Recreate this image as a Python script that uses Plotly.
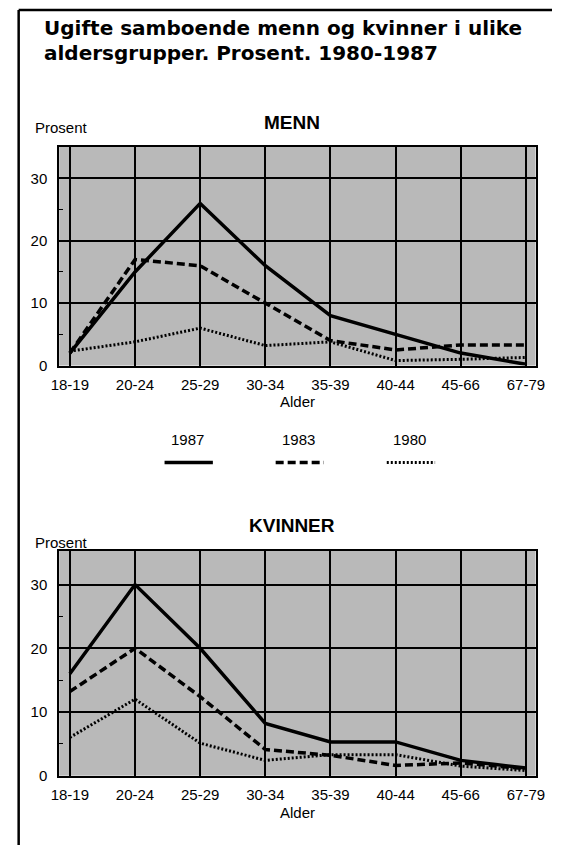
import plotly.graph_objects as go

W, H = 562, 853

categories = ["18-19", "20-24", "25-29", "30-34", "35-39", "40-44", "45-66", "67-79"]
years = ["1987", "1983", "1980"]

menn_1987 = [2, 15, 26, 16, 8, 5, 2, 0.2]
menn_1983 = [2, 17, 16, 10, 4, 2.5, 3.3, 3.3]
menn_1980 = [2.3, 3.8, 6, 3.2, 3.8, 0.8, 1.0, 1.3]

kvinner_1987 = [16, 30, 20, 8.2, 5.3, 5.3, 2.4, 1.2]
kvinner_1983 = [13.2, 20, 12.4, 4.1, 3.2, 1.6, 2.0, 1.1]
kvinner_1980 = [6, 12, 5.1, 2.4, 3.3, 3.3, 1.5, 0.8]

y_ticks = [0, 10, 20, 30]
y_minor = [5, 15, 25]

title_lines = ["Ugifte samboende menn og kvinner i ulike",
               "aldersgrupper. Prosent. 1980-1987"]

FONT = "Liberation Sans Narrow, Liberation Sans, Arial, sans-serif"
TFONT = "DejaVu Sans, Liberation Sans, Arial, sans-serif"
BG = "#b9b9b9"

styles = {"1987": dict(dash="solid", width=3.5),
          "1983": dict(dash="8px,4px", width=3.5),
          "1980": dict(dash="2px,2px", width=3)}


def px(x):
    return x / W


def py(y):
    return 1 - y / H


fig = go.Figure()

panels = [
    ("x", "y", [menn_1987, menn_1983, menn_1980]),
    ("x2", "y2", [kvinner_1987, kvinner_1983, kvinner_1980]),
]
for xa, ya, series in panels:
    for yr, vals in zip(years, series):
        st = styles[yr]
        fig.add_trace(go.Scatter(
            x=categories, y=vals, mode="lines", name=yr,
            line=dict(color="black", width=st["width"], dash=st["dash"]),
            xaxis=xa, yaxis=ya, showlegend=False, hoverinfo="skip"))

xl, xr = 52, 545
xaxis_common = dict(
    type="category", range=[-0.163, 7.148], showgrid=True, gridcolor="black",
    gridwidth=2, showline=True, mirror=True, linecolor="black", linewidth=2,
    ticks="", ticklabelstandoff=4, tickfont=dict(family=FONT, size=15, color="black"),
    zeroline=False, fixedrange=True)
yaxis_common = dict(
    tickmode="array", tickvals=y_ticks, showgrid=True, gridcolor="black",
    gridwidth=2, showline=True, mirror=True, linecolor="black", linewidth=2,
    ticks="", ticklabelstandoff=7, tickfont=dict(family=FONT, size=15, color="black"),
    zeroline=False, fixedrange=True,
    minor=dict(tickvals=y_minor, ticks="inside", ticklen=4, tickcolor="black",
               tickwidth=1, showgrid=False))

fig.update_layout(
    width=W, height=H, margin=dict(l=0, r=0, t=0, b=0),
    paper_bgcolor="white", plot_bgcolor=BG, showlegend=False,
    xaxis=dict(domain=[px(xl), px(xr)], anchor="y", **xaxis_common),
    yaxis=dict(domain=[py(369), py(148)], anchor="x", range=[0, 35.1], **yaxis_common),
    xaxis2=dict(domain=[px(xl), px(xr)], anchor="y2", **xaxis_common),
    yaxis2=dict(domain=[py(783), py(556)], anchor="x2", range=[0, 35.3], **yaxis_common),
)

ann = []
# Title
for i, line in enumerate(title_lines):
    ann.append(dict(x=px(34), y=py(28 + 25 * i), xref="paper", yref="paper",
                    xanchor="left", yanchor="middle", showarrow=False,
                    text="<b>%s</b>" % line,
                    font=dict(family=TFONT, size=20, color="black")))
cx = (xl + xr) / 2
for label, yc in [("MENN", 124), ("KVINNER", 530)]:
    ann.append(dict(x=px(cx - 6), y=py(yc), xref="paper", yref="paper",
                    xanchor="center", yanchor="middle", showarrow=False,
                    text="<b>%s</b>" % label,
                    font=dict(family="Liberation Sans, Arial, sans-serif", size=19, color="black")))
for yc in [129, 548]:
    ann.append(dict(x=px(25), y=py(yc), xref="paper", yref="paper",
                    xanchor="left", yanchor="middle", showarrow=False, text="Prosent",
                    font=dict(family=FONT, size=15, color="black")))
for yc in [405, 820]:
    ann.append(dict(x=px(cx), y=py(yc), xref="paper", yref="paper",
                    xanchor="center", yanchor="middle", showarrow=False, text="Alder",
                    font=dict(family=FONT, size=15, color="black")))

# Legend (year labels above line samples)
shapes = []
leg_x = [185, 300, 415]
for yr, lx in zip(years, leg_x):
    ann.append(dict(x=px(lx), y=py(444), xref="paper", yref="paper",
                    xanchor="center", yanchor="middle", showarrow=False, text=yr,
                    font=dict(family=FONT, size=15, color="black")))
    st = styles[yr]
    shapes.append(dict(type="line", xref="paper", yref="paper",
                       x0=px(lx - 24), x1=px(lx + 26), y0=py(467), y1=py(467),
                       line=dict(color="black", width=st["width"], dash=st["dash"])))

# Frame (top and left borders)
shapes.append(dict(type="line", xref="paper", yref="paper", x0=px(10), x1=1,
                   y0=py(10), y1=py(10), line=dict(color="black", width=2.5)))
shapes.append(dict(type="line", xref="paper", yref="paper", x0=px(10), x1=px(10),
                   y0=py(10), y1=0, line=dict(color="black", width=2.5)))

fig.update_layout(annotations=ann, shapes=shapes)

fig.write_html("out.html", config={"displayModeBar": False},
               post_script="document.body.style.margin='0';document.body.style.overflow='hidden';")
